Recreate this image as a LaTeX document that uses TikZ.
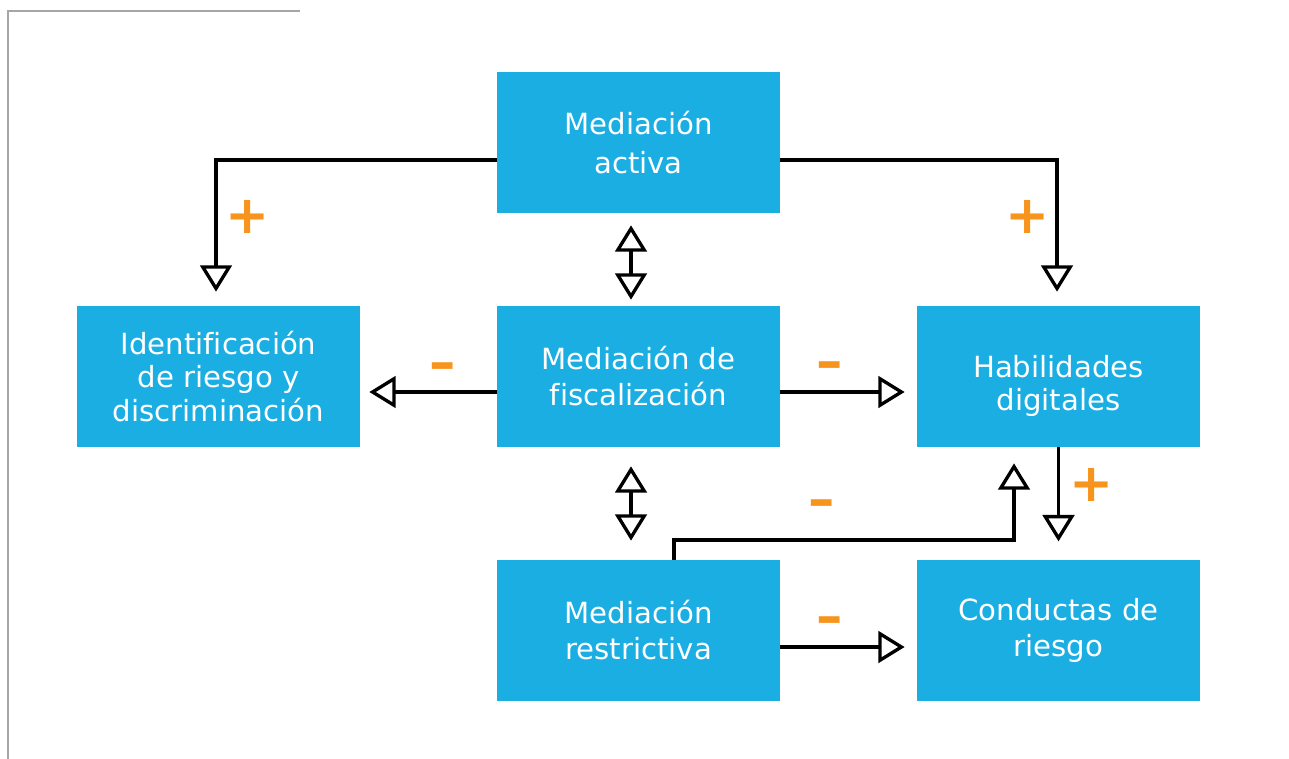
\documentclass[tikz,border=0pt]{standalone}
\usepackage{fontspec}
\setmainfont[Ligatures=NoCommon]{DejaVu Sans}
\usetikzlibrary{arrows.meta,calc}

\definecolor{boxblue}{HTML}{1BAEE3}
\definecolor{signorange}{HTML}{F7941D}

\tikzset{
  mbox/.style={fill=boxblue, text=white, minimum width=5.66cm, minimum height=2.82cm,
    inner sep=0pt, align=center, font=\fontsize{16.6}{20.5}\selectfont},
  conn/.style={line width=1.9pt, -{Triangle[open, length=15pt, width=18pt]}},
  dconn/.style={line width=1.9pt, {Triangle[open, length=15pt, width=18pt]}-{Triangle[open, length=15pt, width=18pt]}},
  sign/.style={text=signorange, anchor=base, inner sep=0pt, font=\fontsize{30}{30}\selectfont\bfseries}
}

\begin{document}
\begin{tikzpicture}[x=0.2mm, y=-0.2mm]

  \useasboundingbox (0,0) rectangle (1289,759);

  % -- frame --
  \draw[gray!70, line width=1.1pt] (300,11) -- (8,11) -- (8,759);

  % -- boxes --
  \node[mbox, font=\fontsize{16.6}{22.5}\selectfont] (activa) at (638.5,142.5) {Mediación\\activa};
  \node[mbox, font=\fontsize{16.6}{19}\selectfont] (ident) at (218.5,376.5) {Identificación\\de riesgo y\\discriminación};
  \node[mbox] (fisc) at (638.5,376.5) {Mediación de\\fiscalización};
  \node[mbox, font=\fontsize{16.6}{18.7}\selectfont] (habil) at (1058.5,376.5) {\raisebox{-10pt}[0pt][0pt]{Habilidades}\\\raisebox{-10pt}[0pt][0pt]{digitales}};
  \node[mbox] (restr) at (638.5,630.5) {Mediación\\restrictiva};
  \node[mbox] (conduc) at (1058.5,630.5) {Conductas de\\riesgo};

  % -- connectors --
  \draw[conn] ($(activa.west)+(0,17.5)$) -| ($(ident.north)+(-2.5,-14)$);
  \draw[conn] ($(activa.east)+(0,17.5)$) -| ($(habil.north)+(-1.5,-14)$);
  \draw[dconn] ($(activa.south)+(-7.5,12)$) -- ($(fisc.north)+(-7.5,-6)$);
  \draw[conn] ($(fisc.west)+(0,15.5)$) -- ($(ident.east)+(9,15.5)$);
  \draw[conn] ($(fisc.east)+(0,15.5)$) -- ($(habil.west)+(-12,15.5)$);
  \draw[dconn] ($(fisc.south)+(-7.5,19)$) -- ($(restr.north)+(-7.5,-19)$);
  \draw[conn] ($(restr.north)+(35.5,0)$) |- (1014,540) -- ($(habil.south)+(-44.5,16)$);
  \draw[conn] (habil.south) -- ($(habil.south)+(0,94)$);
  \draw[conn] ($(restr.east)+(0,16.5)$) -- ($(conduc.west)+(-12,16.5)$);

  % -- signs --
  \node[sign] (s1) at (248,234) {+};
  \node[sign] (s2) at (1028,234) {+};
  \node[sign] (s3) at (443,380) {–};
  \node[sign] (s4) at (830,379) {–};
  \node[sign] (s5) at (822,517) {–};
  \node[sign] (s6) at (1092,501) {+};
  \node[sign] (s7) at (830,634) {–};

\end{tikzpicture}
\end{document}
